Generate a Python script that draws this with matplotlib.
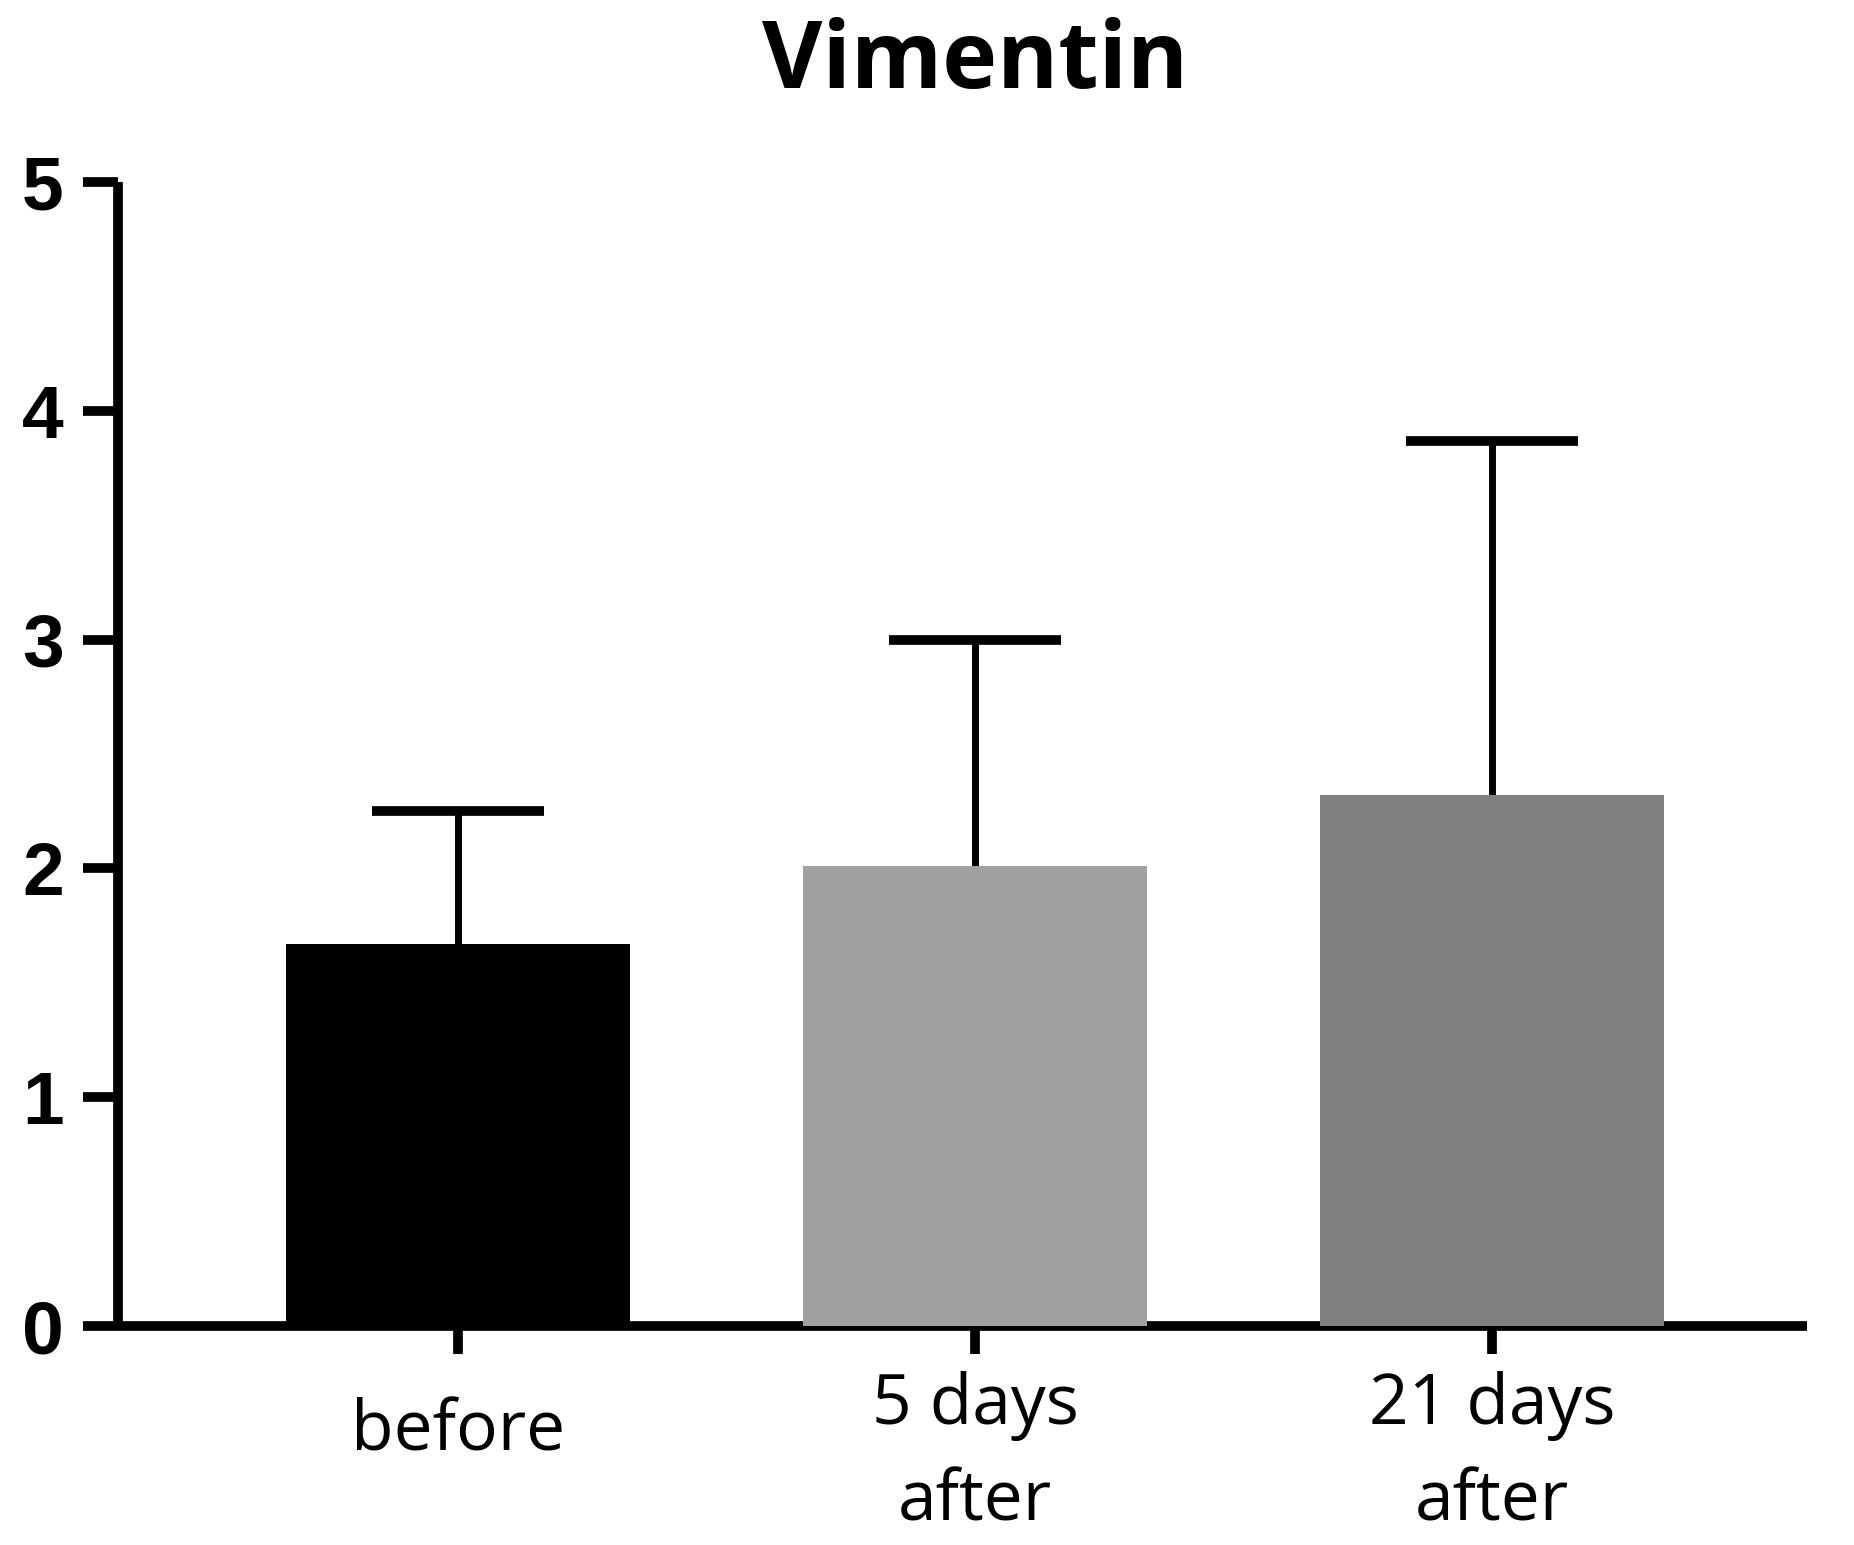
import matplotlib
matplotlib.use("Agg")
import matplotlib.pyplot as plt
from matplotlib.transforms import ScaledTranslation

categories = ["before", "5 days\nafter", "21 days\nafter"]
means = [1.67, 2.01, 2.32]
upper_err = [0.58, 0.99, 1.55]
bar_colors = ["#000000", "#A0A0A2", "#808080"]
yticks = [0, 1, 2, 3, 4, 5]
title = "Vimentin"

fig = plt.figure(figsize=(18.54, 15.45), dpi=100)
ax = fig.add_axes([0.0636, 0.1417, 0.9110, 0.7405])

x = list(range(len(categories)))

ax.bar(x, means, width=0.665, color=bar_colors, zorder=3)
eb = ax.errorbar(x, means, yerr=[[0]*3, upper_err], fmt="none", ecolor="black",
                 elinewidth=5, capsize=62, capthick=7, zorder=2)
eb[1][0].set_visible(False)

ax.set_xlim(-0.658, 2.609)
ax.set_ylim(0, 5)
ax.set_yticks(yticks)
ax.set_yticklabels([str(t) for t in yticks], fontfamily="Liberation Sans",
                   fontweight="bold", fontsize=54)
ax.set_xticks(x)
ax.set_xticklabels(categories, fontfamily="Open Sans", fontsize=50, linespacing=1.5)

for s in ["top", "right"]:
    ax.spines[s].set_visible(False)
for s in ["left", "bottom"]:
    ax.spines[s].set_linewidth(7)
    ax.spines[s].set_capstyle("butt")
ax.tick_params(axis="y", length=25, width=7, pad=14)
ax.tick_params(axis="x", length=20, width=7, pad=12)

lbl = ax.get_xticklabels()[0]
lbl.set_transform(lbl.get_transform() + ScaledTranslation(0, -0.27, fig.dpi_scale_trans))

fig.text(975/1854, 1 - 88/1545, title, ha="center", va="baseline",
         fontfamily="Open Sans", fontweight="bold", fontsize=67)

fig.savefig("out.png", dpi=100)
